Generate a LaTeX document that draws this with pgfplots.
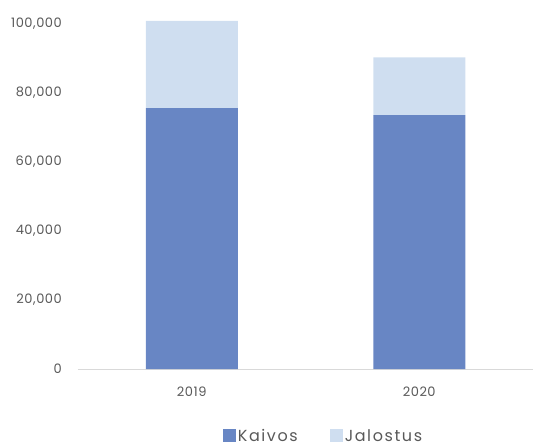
\documentclass[border=0pt]{standalone}
\usepackage{fontspec}
\setmainfont{Poppins}
\usepackage{pgfplots}
\pgfplotsset{compat=1.18}
\newfontfamily\tickfont[LetterSpace=4]{Poppins}
\newfontfamily\legfont[LetterSpace=10]{Poppins}
\definecolor{kaivos}{HTML}{6886C4}
\definecolor{jalostus}{HTML}{CFDEF0}
\definecolor{txt}{HTML}{595959}
\definecolor{base}{HTML}{D9D9D9}

\begin{document}
\begin{tikzpicture}[x=1pt,y=1pt]
\useasboundingbox (-78,-78) rectangle (467,369);
\begin{axis}[
    at={(0,0)}, anchor=south west,
    scale only axis,
    width=455pt, height=345pt,
    xmin=-0.5, xmax=1.5,
    ymin=0, ymax=100000,
    clip=false,
    ybar stacked,
    bar width=92pt,
    xtick={0,1},
    xticklabels={2019,2020},
    ytick={0,20000,...,100000},
    scaled y ticks=false,
    separate axis lines,
    axis x line*=bottom,
    axis y line*=left,
    x axis line style={draw=base, line width=0.8pt, -},
    y axis line style={draw=none},
    major tick length=0pt,
    tick style={draw=none},
    xticklabel style={anchor=center, yshift=-23pt,
        font=\fontsize{13}{15}\tickfont, text=txt},
    yticklabel style={anchor=east, inner sep=0pt, xshift=-16pt,
        font=\fontsize{13}{15}\tickfont, text=txt,
        /pgf/number format/.cd, fixed, 1000 sep={,}, assume math mode=true},
    legend columns=2,
    legend style={at={(0.5396,-0.194)}, anchor=center, draw=none,
        font=\fontsize{16}{18}\legfont, text=txt,
        /tikz/every even column/.append style={column sep=30pt}},
    legend cell align=left,
    legend image code/.code={\fill[#1] (0pt,-6.5pt) rectangle (13pt,6.5pt);},
]
\addplot[fill=kaivos, draw=none] coordinates {(0,75600) (1,73600)};
\addplot[fill=jalostus, draw=none] coordinates {(0,25300) (1,16700)};
\legend{Kaivos, Jalostus}
\end{axis}
\end{tikzpicture}
\end{document}
